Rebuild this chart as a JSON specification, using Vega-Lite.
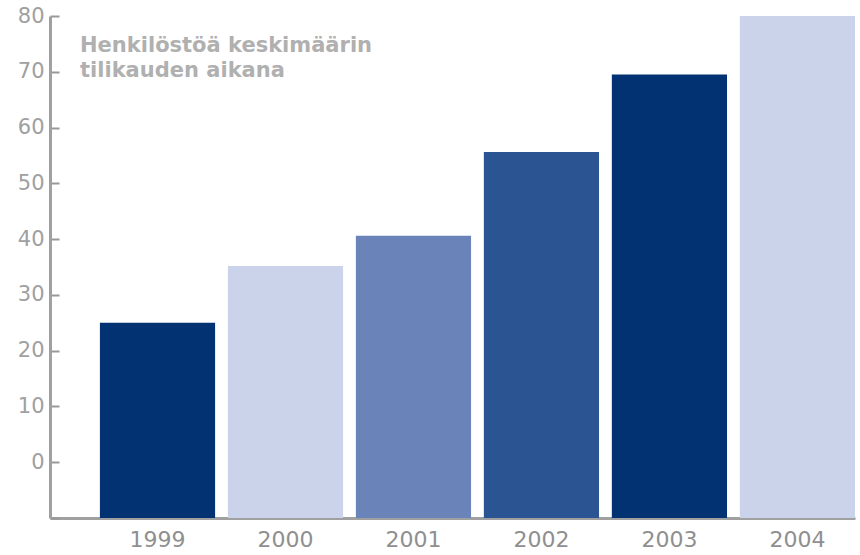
{
  "$schema": "https://vega.github.io/schema/vega-lite/v6.json",
  "width": 805,
  "height": 502,
  "autosize": {"type": "none"},
  "padding": {"left": 50, "top": 16, "right": 5, "bottom": 37},
  "background": "white",
  "title": {
    "text": ["Henkilöstöä keskimäärin", "tilikauden aikana"],
    "anchor": "start",
    "frame": "group",
    "orient": "top",
    "baseline": "top",
    "offset": 0,
    "dx": 30,
    "dy": 76,
    "font": "DejaVu Sans",
    "fontSize": 21,
    "fontWeight": "bold",
    "color": "#b0b0b0",
    "lineHeight": 25
  },
  "data": {
    "values": [
      {"year": "1999", "value": 25, "shade": "a"},
      {"year": "2000", "value": 35.2, "shade": "b"},
      {"year": "2001", "value": 40.6, "shade": "c"},
      {"year": "2002", "value": 55.6, "shade": "d"},
      {"year": "2003", "value": 69.5, "shade": "a2"},
      {"year": "2004", "value": 80, "shade": "b2"}
    ]
  },
  "mark": {"type": "bar"},
  "encoding": {
    "x": {
      "field": "year",
      "type": "nominal",
      "sort": null,
      "scale": {"paddingInner": 0.1, "paddingOuter": 0.195, "align": 1},
      "axis": {
        "title": null,
        "labelAngle": 0,
        "ticks": false,
        "domainColor": "#a0a0a0",
        "domainWidth": 3,
        "labelFont": "DejaVu Sans",
        "labelFontSize": 22,
        "labelColor": "#8f8f8f",
        "labelPadding": 11
      }
    },
    "y": {
      "field": "value",
      "type": "quantitative",
      "scale": {"domain": [-10, 80], "nice": false, "zero": false},
      "axis": {
        "title": null,
        "values": [-10, 0, 10, 20, 30, 40, 50, 60, 70, 80],
        "labelExpr": "datum.value < 0 ? '' : datum.label",
        "grid": false,
        "ticks": true,
        "tickSize": -9,
        "tickColor": "#999999",
        "tickWidth": 2,
        "domainColor": "#a0a0a0",
        "domainWidth": 3,
        "labelFont": "DejaVu Sans",
        "labelFontSize": 21,
        "labelColor": "#a0a0a0",
        "labelPadding": 15
      }
    },
    "y2": {"datum": -10},
    "color": {
      "field": "shade",
      "type": "nominal",
      "legend": null,
      "scale": {
        "domain": ["a", "b", "c", "d", "a2", "b2"],
        "range": ["#033272", "#cbd3ea", "#6a83b8", "#2b5592", "#033272", "#cbd3ea"]
      }
    }
  },
  "config": {"view": {"stroke": null}}
}
